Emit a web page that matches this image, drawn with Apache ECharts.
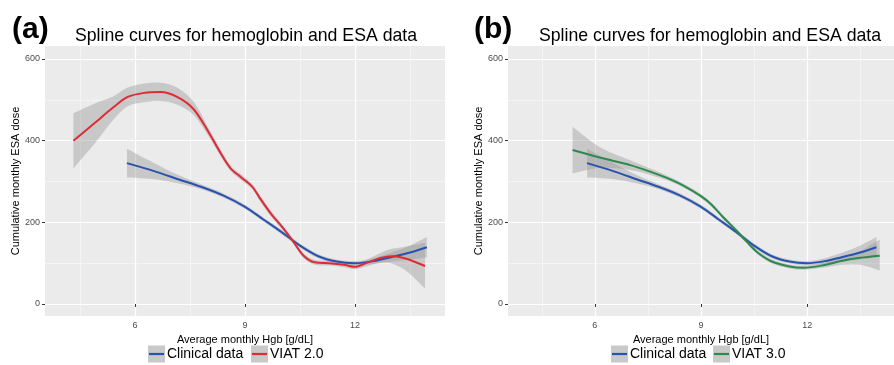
<!DOCTYPE html>
<html><head><meta charset="utf-8">
<script src="https://cdn.jsdelivr.net/npm/echarts@6/dist/echarts.min.js"></script>
<style>html,body{margin:0;padding:0;background:#fff}#c{width:894px;height:365px}</style>
</head><body><div id="c"></div>
<script>
// ---------- data ----------
const clinicalHgb = [5.78, 6.5, 7.2, 7.8, 8.4, 9.0, 9.5, 10.0, 10.5, 11.0, 11.5, 12.0, 12.5, 13.0, 13.5, 13.96];
const clinicalEsa = [345, 326, 305, 287, 266, 238, 207, 176, 143, 117, 104, 100, 105, 115, 126, 139];
const clinicalLo  = [310, 306, 295, 281, 261, 233, 202, 171, 138, 112, 99, 95, 98, 104, 109, 114];
const clinicalHi  = [380, 346, 315, 293, 271, 243, 212, 181, 148, 122, 109, 105, 112, 126, 143, 164];

const viat2Hgb = [4.32, 4.9, 5.4, 5.8, 6.25, 6.7, 7.15, 7.6, 8.0, 8.3, 8.6, 8.9, 9.2, 9.4, 9.7, 10.0, 10.3, 10.6, 10.9, 11.3, 11.7, 12.0, 12.3, 12.7, 13.0, 13.4, 13.91];
const viat2Esa = [400, 443, 481, 507, 517, 519, 507, 477, 422, 375, 333, 310, 287, 260, 222, 190, 155, 118, 102, 100, 96, 91, 100, 113, 117, 111, 93];
const viat2Lo  = [332, 393, 450, 484, 494, 497, 488, 463, 412, 367, 326, 303, 281, 253, 215, 184, 149, 112, 96, 94, 90, 85, 92, 101, 99, 81, 38];
const viat2Hi  = [467, 491, 508, 530, 540, 542, 530, 495, 432, 383, 340, 317, 293, 267, 229, 196, 161, 124, 108, 106, 102, 97, 108, 125, 135, 141, 150];

const viat3Hgb = [5.37, 6.0, 6.5, 7.0, 7.5, 8.0, 8.5, 9.0, 9.3, 9.6, 10.0, 10.3, 10.6, 11.0, 11.5, 11.9, 12.4, 13.0, 13.5, 14.05];
const viat3Esa = [377, 362, 351, 340, 326, 310, 290, 264, 243, 215, 180, 152, 126, 104, 92, 89, 94, 106, 113, 118];
const viat3Lo  = [320, 332, 333, 328, 318, 304, 285, 259, 238, 210, 175, 147, 121, 99, 87, 84, 88, 96, 96, 82];
const viat3Hi  = [434, 392, 369, 352, 334, 316, 295, 269, 248, 220, 185, 157, 131, 109, 97, 94, 100, 116, 130, 158];

const xTicks = [6, 9, 12];
const xMinorTicks = [4.5, 7.5, 10.5, 13.5];
const yTicks = [0, 200, 400, 600];
const yMinorTicks = [100, 300, 500];

const panelTitle = 'Spline curves for hemoglobin and ESA data';
const panelTags = ['(a)', '(b)'];
const xName = 'Average monthly Hgb [g/dL]';
const yName = 'Cumulative monthly ESA dose';
const legendNames = [['Clinical data', 'VIAT 2.0'], ['Clinical data', 'VIAT 3.0']];

// ---------- style ----------
const FONT = '"Liberation Sans", Arial, Helvetica, sans-serif';
const BLUE = '#2752B0', RED = '#DE2B36', GREEN = '#2C8A4E';
const RIBBON = 'rgba(153,153,153,0.42)';
const X_MIN = 3.545, X_MAX = 14.455, Y_MIN = -29.4, Y_MAX = 631.8;

const grids = [
  { left: 45, top: 46, width: 400, height: 270, show: true, backgroundColor: '#EBEBEB', borderWidth: 0 },
  { left: 508, top: 46, width: 398, height: 270, show: true, backgroundColor: '#EBEBEB', borderWidth: 0 }
];

function xAxes(g) {
  return [
    { type: 'value', gridIndex: g, min: X_MIN, max: X_MAX, position: 'bottom',
      axisLine: { show: false },
      axisTick: { show: true, customValues: xTicks, length: 3, lineStyle: { color: '#333', width: 1 } },
      axisLabel: { customValues: xTicks, fontSize: 9, color: '#4D4D4D', margin: 5, fontFamily: FONT },
      splitLine: { show: true, lineStyle: { color: '#FFFFFF', width: 1.2 } },
      name: xName, nameLocation: 'middle', nameGap: 14,
      nameTextStyle: { fontSize: 11, color: '#000', fontFamily: FONT } },
    { type: 'value', gridIndex: g, min: X_MIN, max: X_MAX, position: 'top',
      axisLine: { show: false },
      axisTick: { show: false, customValues: xMinorTicks },
      axisLabel: { show: false, customValues: xMinorTicks },
      splitLine: { show: true, lineStyle: { color: '#FAFAFA', width: 0.6 } } }
  ];
}
function yAxes(g) {
  return [
    { type: 'value', gridIndex: g, min: Y_MIN, max: Y_MAX, position: 'left',
      axisLine: { show: false },
      axisTick: { show: true, customValues: yTicks, length: 3, lineStyle: { color: '#333', width: 1 } },
      axisLabel: { customValues: yTicks, fontSize: 9, color: '#4D4D4D', margin: 5, fontFamily: FONT },
      splitLine: { show: true, lineStyle: { color: '#FFFFFF', width: 1.2 } },
      name: yName, nameLocation: 'middle', nameGap: 21,
      nameTextStyle: { fontSize: 11, color: '#000', fontFamily: FONT } },
    { type: 'value', gridIndex: g, min: Y_MIN, max: Y_MAX, position: 'right',
      axisLine: { show: false },
      axisTick: { show: false, customValues: yMinorTicks },
      axisLabel: { show: false, customValues: yMinorTicks },
      splitLine: { show: true, lineStyle: { color: '#FAFAFA', width: 0.6 } } }
  ];
}

function smoothSeg(pts) {
  let d = '';
  for (let i = 0; i < pts.length - 1; i++) {
    const p0 = pts[i - 1] || pts[i], p1 = pts[i], p2 = pts[i + 1], p3 = pts[i + 2] || pts[i + 1];
    const t = 1 / 6;
    const c1 = [p1[0] + (p2[0] - p0[0]) * t, p1[1] + (p2[1] - p0[1]) * t];
    const c2 = [p2[0] - (p3[0] - p1[0]) * t, p2[1] - (p3[1] - p1[1]) * t];
    d += ' C' + c1[0] + ',' + c1[1] + ' ' + c2[0] + ',' + c2[1] + ' ' + p2[0] + ',' + p2[1];
  }
  return d;
}

function ribbon(g, xs, lo, hi) {
  return {
    type: 'custom', xAxisIndex: g * 2, yAxisIndex: g * 2, z: 1, silent: true, clip: true,
    data: [[xs[0], lo[0]]],
    renderItem: function (params, api) {
      const top = xs.map((x, i) => api.coord([x, hi[i]]));
      const bot = xs.map((x, i) => api.coord([x, lo[i]])).reverse();
      const d = 'M' + top[0][0] + ',' + top[0][1] + smoothSeg(top) +
                ' L' + bot[0][0] + ',' + bot[0][1] + smoothSeg(bot) + ' Z';
      return { type: 'path', shape: { pathData: d }, style: { fill: RIBBON, stroke: null } };
    }
  };
}

function curve(g, name, xs, ys, color) {
  return {
    type: 'line', name: name, xAxisIndex: g * 2, yAxisIndex: g * 2, z: 3,
    data: xs.map((x, i) => [x, ys[i]]), showSymbol: false, smooth: 0.3,
    lineStyle: { color: color, width: 2 }, itemStyle: { color: color }, silent: true
  };
}

function legendGraphic(items, y) {
  const out = [];
  items.forEach(it => {
    out.push({ type: 'rect', shape: { x: it.kx, y: y - 8.5, width: 17, height: 17 }, style: { fill: '#C9C9C9' } });
    out.push({ type: 'line', shape: { x1: it.kx + 1, y1: y, x2: it.kx + 16, y2: y }, style: { stroke: it.color, lineWidth: 2.2 } });
    out.push({ type: 'text', x: it.tx, y: y, style: { text: it.text, fontSize: 14, fontFamily: FONT, fill: '#000', textVerticalAlign: 'middle', textAlign: 'left' } });
  });
  return out;
}

const graphics = [
  { type: 'text', x: 12, y: 30, style: { text: panelTags[0], fontSize: 30, fontWeight: 'bold', fontFamily: FONT, fill: '#000', textVerticalAlign: 'middle' } },
  { type: 'text', x: 474, y: 30, style: { text: panelTags[1], fontSize: 30, fontWeight: 'bold', fontFamily: FONT, fill: '#000', textVerticalAlign: 'middle' } },
  { type: 'text', x: 246, y: 36, style: { text: panelTitle, fontSize: 17.7, fontFamily: FONT, fill: '#000', textAlign: 'center', textVerticalAlign: 'middle' } },
  { type: 'text', x: 710, y: 36, style: { text: panelTitle, fontSize: 17.7, fontFamily: FONT, fill: '#000', textAlign: 'center', textVerticalAlign: 'middle' } }
].concat(legendGraphic([
  { kx: 148, tx: 167, text: legendNames[0][0], color: BLUE },
  { kx: 251, tx: 270, text: legendNames[0][1], color: RED },
  { kx: 611, tx: 630, text: legendNames[1][0], color: BLUE },
  { kx: 713, tx: 732, text: legendNames[1][1], color: GREEN }
], 354));

const chart = echarts.init(document.getElementById('c'), null, { renderer: 'canvas' });
chart.setOption({
  animation: false,
  backgroundColor: '#FFFFFF',
  textStyle: { fontFamily: FONT },
  grid: grids,
  xAxis: xAxes(0).concat(xAxes(1)),
  yAxis: yAxes(0).concat(yAxes(1)),
  graphic: graphics,
  series: [
    ribbon(0, clinicalHgb, clinicalLo, clinicalHi),
    ribbon(0, viat2Hgb, viat2Lo, viat2Hi),
    curve(0, legendNames[0][0], clinicalHgb, clinicalEsa, BLUE),
    curve(0, legendNames[0][1], viat2Hgb, viat2Esa, RED),
    ribbon(1, clinicalHgb, clinicalLo, clinicalHi),
    ribbon(1, viat3Hgb, viat3Lo, viat3Hi),
    curve(1, legendNames[1][0], clinicalHgb, clinicalEsa, BLUE),
    curve(1, legendNames[1][1], viat3Hgb, viat3Esa, GREEN)
  ]
});
</script></body></html>
